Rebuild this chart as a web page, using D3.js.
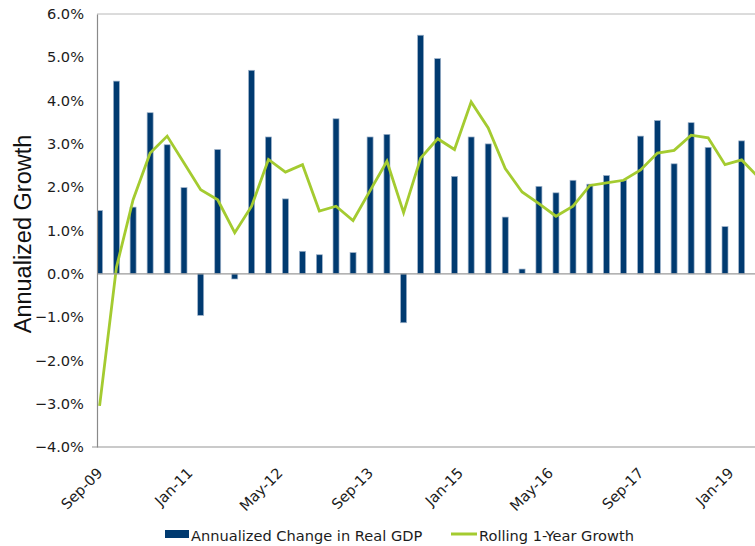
<!DOCTYPE html>
<html>
<head>
<meta charset="utf-8">
<script src="https://cdn.jsdelivr.net/npm/d3@7"></script>
<style>
  body { margin: 0; background: #fff; }
  svg { display: block; }
  .tick-label { font-family: "DejaVu Sans", Verdana, sans-serif; font-size: 14.6px; fill: #1c1c1c; }
  .legend-text { font-family: "DejaVu Sans", Verdana, sans-serif; font-size: 14.6px; fill: #1c1c1c; }
</style>
</head>
<body>
<svg width="755" height="546"></svg>
<script>
// quarter-end months
const quarters = [
  '2009-09','2009-12','2010-03','2010-06','2010-09','2010-12','2011-03','2011-06','2011-09','2011-12',
  '2012-03','2012-06','2012-09','2012-12','2013-03','2013-06','2013-09','2013-12','2014-03','2014-06',
  '2014-09','2014-12','2015-03','2015-06','2015-09','2015-12','2016-03','2016-06','2016-09','2016-12',
  '2017-03','2017-06','2017-09','2017-12','2018-03','2018-06','2018-09','2018-12','2019-03','2019-06'
];
const gdpChange = [
  1.46, 4.45, 1.54, 3.72, 2.98, 1.99, -0.96, 2.87, -0.12, 4.70,
  3.16, 1.73, 0.52, 0.44, 3.58, 0.49, 3.16, 3.22, -1.13, 5.51,
  4.97, 2.25, 3.16, 3.00, 1.31, 0.11, 2.02, 1.87, 2.16, 2.07,
  2.27, 2.16, 3.18, 3.54, 2.54, 3.49, 2.92, 1.09, 3.07, null
];
const rollingGrowth = [
  -3.05, 0.15, 1.71, 2.79, 3.18, 2.56, 1.94, 1.71, 0.95, 1.56,
  2.64, 2.35, 2.52, 1.45, 1.56, 1.23, 1.92, 2.60, 1.41, 2.67,
  3.12, 2.87, 3.97, 3.37, 2.43, 1.89, 1.62, 1.33, 1.56, 2.04,
  2.10, 2.16, 2.40, 2.79, 2.85, 3.20, 3.14, 2.52, 2.63, 2.22
];
const yTicks = [-4, -3, -2, -1, 0, 1, 2, 3, 4, 5, 6];
const xTickLabels = ['Sep-09', 'Jan-11', 'May-12', 'Sep-13', 'Jan-15', 'May-16', 'Sep-17', 'Jan-19'];
const seriesNames = ['Annualized Change in Real GDP', 'Rolling 1-Year Growth'];
const yTitle = 'Annualized Growth';

const svg = d3.select('svg');
const navy = '#003a70';
const lime = '#a4cb30';

const parseMonth = d3.timeParse('%Y-%m');
const parseTick = d3.timeParse('%b-%y');
const data = quarters.map((q, i) => ({
  date: d3.timeDay.offset(parseMonth(q), 14),
  gdp: gdpChange[i],
  roll: rollingGrowth[i]
}));

const plotL = 97, plotR = 755, plotT = 14, plotB = 447;

const x = d3.scaleTime()
  .domain([new Date(2009, 8, 1), new Date(2019, 4, 26)])
  .range([plotL, plotR]);
const y = d3.scaleLinear()
  .domain([-4, 6])
  .range([plotB, plotT]);

svg.append('defs').append('clipPath').attr('id', 'plot')
  .append('rect')
  .attr('x', plotL).attr('y', plotT - 2)
  .attr('width', plotR - plotL).attr('height', plotB - plotT + 4);

// top frame line
svg.append('line')
  .attr('x1', plotL).attr('x2', plotR)
  .attr('y1', y(6)).attr('y2', y(6))
  .attr('stroke', '#b8b8b8').attr('stroke-width', 1);

const g = svg.append('g').attr('clip-path', 'url(#plot)');

g.selectAll('rect.bar').data(data.filter(d => d.gdp !== null))
  .enter().append('rect')
    .attr('class', 'bar')
    .attr('x', d => x(d.date) - 3)
    .attr('width', 6)
    .attr('y', d => y(Math.max(0, d.gdp)))
    .attr('height', d => Math.abs(y(d.gdp) - y(0)))
    .attr('fill', navy)
    .attr('stroke', '#9fb3ca')
    .attr('stroke-width', 0.7);

// zero line
svg.append('line')
  .attr('x1', plotL).attr('x2', plotR)
  .attr('y1', y(0)).attr('y2', y(0))
  .attr('stroke', '#9a9a9a').attr('stroke-width', 1.2);

// bottom axis line
svg.append('line')
  .attr('x1', plotL - 5).attr('x2', plotR)
  .attr('y1', y(-4)).attr('y2', y(-4))
  .attr('stroke', '#b8b8b8').attr('stroke-width', 1.5);

const line = d3.line()
  .x(d => x(d.date))
  .y(d => y(d.roll))
  .curve(d3.curveLinear);

g.append('path')
  .datum(data)
  .attr('d', line)
  .attr('fill', 'none')
  .attr('stroke', lime)
  .attr('stroke-width', 2.8)
  .attr('stroke-linejoin', 'miter');

// y axis
const yAxis = d3.axisLeft(y)
  .tickValues(yTicks)
  .tickSize(0)
  .tickPadding(13)
  .tickFormat(d => d3.format('.1f')(d) + '%');
const yAxisG = svg.append('g')
  .attr('transform', `translate(${plotL},0)`)
  .call(yAxis);
yAxisG.select('.domain').attr('stroke', '#8a8a8a').attr('stroke-width', 1.2);
yAxisG.selectAll('text').attr('class', 'tick-label');
yAxisG.attr('font-family', null).attr('font-size', null);

// x axis labels
const xAxis = d3.axisBottom(x)
  .tickValues(xTickLabels.map(parseTick))
  .tickSize(0)
  .tickFormat(d3.timeFormat('%b-%y'));
const xAxisG = svg.append('g')
  .attr('transform', `translate(0,${plotB})`)
  .call(xAxis);
xAxisG.attr('font-family', null).attr('font-size', null);
xAxisG.select('.domain').remove();
xAxisG.selectAll('text')
  .attr('class', 'tick-label')
  .attr('text-anchor', 'end')
  .attr('x', 0).attr('y', 0).attr('dy', 0)
  .attr('transform', 'translate(6,27) rotate(-45)');

// y title
svg.append('text')
  .attr('transform', 'translate(31,234) rotate(-90)')
  .attr('text-anchor', 'middle')
  .attr('font-family', '"Liberation Sans", Arial, sans-serif')
  .attr('font-size', 23.5)
  .attr('fill', '#111')
  .text(yTitle);

// legend
const legend = svg.append('g');
legend.append('rect')
  .attr('x', 165).attr('y', 530)
  .attr('width', 24).attr('height', 8)
  .attr('fill', navy);
legend.append('text')
  .attr('class', 'legend-text')
  .attr('x', 191).attr('y', 541)
  .text(seriesNames[0]);
legend.append('line')
  .attr('x1', 451).attr('x2', 477)
  .attr('y1', 534).attr('y2', 534)
  .attr('stroke', lime).attr('stroke-width', 3);
legend.append('text')
  .attr('class', 'legend-text')
  .attr('x', 479).attr('y', 541)
  .text(seriesNames[1]);
</script>
</body>
</html>
